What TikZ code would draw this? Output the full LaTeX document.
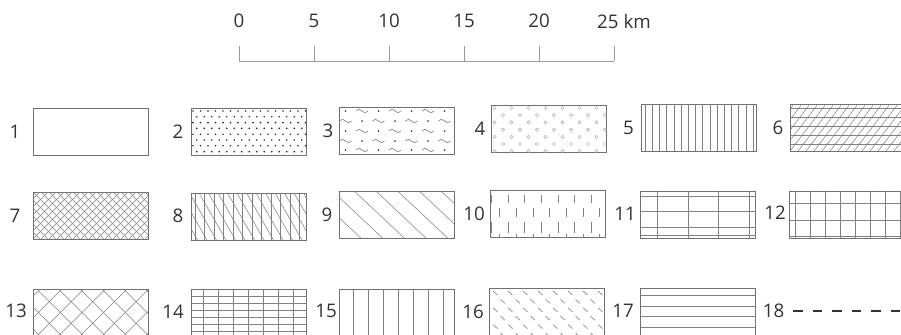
\documentclass[tikz,border=0pt]{standalone}
\usepackage{fontspec}
\setmainfont{Open Sans}
\usepackage{xcolor}
\definecolor{linegray}{HTML}{707070}
\definecolor{hatchgray}{HTML}{808080}
\definecolor{textgray}{HTML}{333333}
\definecolor{scalegray}{HTML}{999999}
\definecolor{ringgray}{HTML}{A8A8A8}
\tikzset{
  legbox/.style={draw=linegray, line width=0.6pt, minimum width=3.45cm, minimum height=1.41cm, inner sep=0pt, outer sep=0pt},
  numlabel/.style={text=textgray, font=\fontsize{16}{19}\selectfont, inner sep=0pt},
  hatch/.style={draw=hatchgray, line width=0.45pt},
}
\begin{document}
\begin{tikzpicture}[x=0.03cm, y=-0.03cm]
    \clip (0,0) rectangle (901,334);

    % Scale bar
    \draw[scalegray, line width=0.6pt] (239,61) -- (614,61);
    \foreach \t [count=\i from 0] in {0,5,10,15,20} {
        \draw[scalegray, line width=0.6pt] ({239+\i*75},46) -- ({239+\i*75},61);
        \node[numlabel] (s\t) at ({239+\i*75},21) {\t};
    }
    \draw[scalegray, line width=0.6pt] (614,46) -- (614,61);
    \node[numlabel, anchor=west] (s25) at (597,21) {25 km};

    % Legend boxes, row 1
    \node[legbox] (b1) at (90.5,132) {};
    \node[legbox] (b2) at (248.5,131.5) {};
    \node[legbox] (b3) at (396.5,130.5) {};
    \node[legbox] (b4) at (549,128.5) {};
    \node[legbox] (b5) at (698.5,127.5) {};
    \node[legbox] (b6) at (847.5,127.5) {};
    % Legend boxes, row 2
    \node[legbox] (b7) at (90.5,215.5) {};
    \node[legbox] (b8) at (248.5,216.5) {};
    \node[legbox] (b9) at (396.5,215) {};
    \node[legbox] (b10) at (548,214) {};
    \node[legbox] (b11) at (698,214.5) {};
    \node[legbox] (b12) at (846.5,214.5) {};
    % Legend boxes, row 3
    \node[legbox] (b13) at (90.5,312.5) {};
    \node[legbox] (b14) at (249,312.5) {};
    \node[legbox] (b15) at (396.5,312.5) {};
    \node[legbox] (b16) at (547,311.5) {};
    \node[legbox] (b17) at (698,311.5) {};

    % Numbers
    \node[numlabel] (l1) at (15,132) {1};
    \node[numlabel] (l2) at (178,131.5) {2};
    \node[numlabel] (l3) at (328,130.5) {3};
    \node[numlabel] (l4) at (480,128.5) {4};
    \node[numlabel] (l5) at (628.5,127.5) {5};
    \node[numlabel] (l6) at (778,128) {6};
    \node[numlabel] (l7) at (15,215.5) {7};
    \node[numlabel] (l8) at (178,216) {8};
    \node[numlabel] (l9) at (327,214.5) {9};
    \node[numlabel] (l10) at (474,213.5) {10};
    \node[numlabel] (l11) at (625,214) {11};
    \node[numlabel] (l12) at (775,212.5) {12};
    \node[numlabel] (l13) at (16,311) {13};
    \node[numlabel] (l14) at (173,312) {14};
    \node[numlabel] (l15) at (326,311) {15};
    \node[numlabel] (l16) at (473,312) {16};
    \node[numlabel] (l17) at (623,311) {17};
    \node[numlabel] (l18) at (773.5,311) {18};

    % 2: dots
    \begin{scope}[shift={(b2.north west)}]
        \clip (0,0) rectangle (115,47);
        \foreach \r in {0,...,7}
            \foreach \c in {0,...,15}
                \fill[textgray] ({2+\c*7.5+mod(\r,2)*3.75},{3+\r*5.8}) circle[radius=0.8pt];
    \end{scope}

    % 3: dots and waves
    \begin{scope}[shift={(b3.north west)}]
        \clip (0,0) rectangle (115,47);
        \foreach \yy [count=\r] in {4,14,24,34,43}
            \foreach \k in {0,...,4} {
                \fill[textgray] ({-10+\k*33+mod(\r,2)*16.5},\yy) circle[radius=0.85pt];
                \draw[hatch, line width=0.55pt, shift={({6.5+\k*33+mod(\r,2)*16.5},\yy)}]
                    (-6,0) sin (-3,-1.8) cos (0,0) sin (3,1.8) cos (6,0);
            }
    \end{scope}

    % 4: small circles
    \begin{scope}[shift={(b4.north west)}]
        \clip (0,0) rectangle (115,47);
        \foreach \r in {0,...,6}
            \foreach \c in {0,...,7}
                \draw[ringgray, line width=0.4pt] ({3+\c*17+mod(\r,2)*8.5},{3+\r*7.2}) circle[radius=1.4pt];
    \end{scope}

    % 5: vertical lines
    \begin{scope}[shift={(b5.north west)}]
        \clip (0,0) rectangle (115,47);
        \foreach \x in {4,11.2,...,115}
            \draw[hatch] (\x,0) -- (\x,47);
    \end{scope}

    % 6: horizontal and oblique
    \begin{scope}[shift={(b6.north west)}]
        \clip (0,0) rectangle (115,47);
        \foreach \y in {4.5,13.5,...,47}
            \draw[hatch] (0,\y) -- (115,\y);
        \foreach \x in {-40,-32,...,120}
            \draw[hatch] (\x,47) -- ({\x+36},0);
    \end{scope}

    % 7: fine cross-hatch
    \begin{scope}[shift={(b7.north west)}]
        \clip (0,0) rectangle (115,47);
        \foreach \x in {-48,-40,...,120} {
            \draw[hatch] (\x,47) -- ({\x+47},0);
            \draw[hatch] (\x,0) -- ({\x+47},47);
        }
    \end{scope}

    % 8: vertical and steep oblique
    \begin{scope}[shift={(b8.north west)}]
        \clip (0,0) rectangle (115,47);
        \foreach \x in {4,13.5,...,115}
            \draw[hatch] (\x,0) -- (\x,47);
        \foreach \x in {-30,-20.5,...,120}
            \draw[hatch] (\x,0) -- ({\x+27},47);
    \end{scope}

    % 9: wide oblique
    \begin{scope}[shift={(b9.north west)}]
        \clip (0,0) rectangle (115,47);
        \foreach \x in {-49.4,-27.7,...,120}
            \draw[hatch] (\x,0) -- ({\x+50},47);
    \end{scope}

    % 10: short vertical dashes
    \begin{scope}[shift={(b10.north west)}]
        \clip (0,0) rectangle (115,47);
        \foreach \x in {0.6,17.3,...,115} {
            \draw[hatch] (\x,4) -- (\x,12);
            \draw[hatch] (\x,31) -- (\x,42);
        }
        \foreach \x in {9,25.7,...,115} {
            \draw[hatch] (\x,17) -- (\x,26);
            \draw[hatch] (\x,43) -- (\x,47);
        }
    \end{scope}

    % 11: wide grid
    \begin{scope}[shift={(b11.north west)}]
        \clip (0,0) rectangle (115,47);
        \foreach \x in {17,48,78,109}
            \draw[hatch] (\x,0) -- (\x,47);
        \foreach \y in {5,20.5,36,44}
            \draw[hatch] (0,\y) -- (115,\y);
    \end{scope}

    % 12: square grid
    \begin{scope}[shift={(b12.north west)}]
        \clip (0,0) rectangle (115,47);
        \foreach \x in {6,21,...,115}
            \draw[hatch] (\x,0) -- (\x,47);
        \foreach \y in {12,29,45.5}
            \draw[hatch] (0,\y) -- (115,\y);
    \end{scope}

    % 13: coarse cross-hatch
    \begin{scope}[shift={(b13.north west)}]
        \clip (0,0) rectangle (115,47);
        \foreach \x in {-61.4,-39.7,...,120} {
            \draw[hatch] (\x,47) -- ({\x+47},0);
            \draw[hatch] (\x,0) -- ({\x+47},47);
        }
    \end{scope}

    % 14: dense grid
    \begin{scope}[shift={(b14.north west)}]
        \clip (0,0) rectangle (115,47);
        \foreach \x in {11.7,26.7,...,115}
            \draw[hatch] (\x,0) -- (\x,47);
        \foreach \y in {7.7,14.6,...,47}
            \draw[hatch] (0,\y) -- (115,\y);
    \end{scope}

    % 15: wide vertical lines
    \begin{scope}[shift={(b15.north west)}]
        \clip (0,0) rectangle (115,47);
        \foreach \x in {14.3,29.3,...,115}
            \draw[hatch] (\x,0) -- (\x,47);
    \end{scope}

    % 16: short oblique dashes
    \begin{scope}[shift={(b16.north west)}]
        \clip (0,0) rectangle (115,47);
        \foreach \y [count=\r] in {5,13.4,21.8,30.2,38.6,47}
            \foreach \k in {0,...,8}
                \draw[hatch, line width=0.55pt] ({\k*15+mod(\r,2)*7.5-4},{\y-2}) -- ++(4.5,4);
    \end{scope}

    % 17: horizontal lines
    \begin{scope}[shift={(b17.north west)}]
        \clip (0,0) rectangle (115,47);
        \foreach \y in {7,17.8,28.6,39.4}
            \draw[hatch] (0,\y) -- (115,\y);
    \end{scope}

    % 18: dashed line
    \coordinate (d18a) at (793,311);
    \coordinate (d18b) at (905,311);
    \draw[textgray, line width=1.5pt, dash pattern=on 0.285cm off 0.3cm] (d18a) -- (d18b);
\end{tikzpicture}
\end{document}
